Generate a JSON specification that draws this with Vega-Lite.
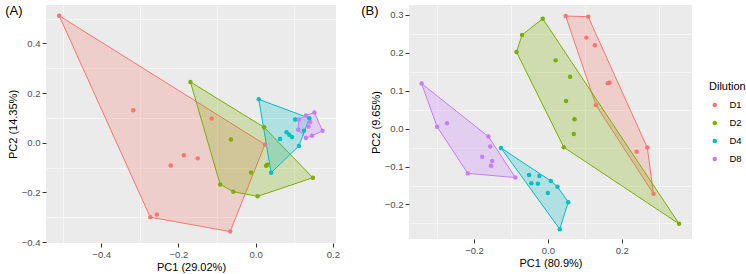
{
  "$schema": "https://vega.github.io/schema/vega-lite/v6.json",
  "padding": {"left": 5, "top": 4, "right": 0, "bottom": 0},
  "data": {
    "values": [
      {"panel": "A", "dilution": "D1", "pc1": -0.509, "pc2": 0.512, "hull": 1},
      {"panel": "A", "dilution": "D1", "pc1": 0.024, "pc2": -0.007, "hull": 2},
      {"panel": "A", "dilution": "D1", "pc1": -0.066, "pc2": -0.358, "hull": 3},
      {"panel": "A", "dilution": "D1", "pc1": -0.273, "pc2": -0.300, "hull": 4},
      {"panel": "A", "dilution": "D1", "pc1": -0.317, "pc2": 0.131, "hull": null},
      {"panel": "A", "dilution": "D1", "pc1": -0.114, "pc2": 0.098, "hull": null},
      {"panel": "A", "dilution": "D1", "pc1": -0.186, "pc2": -0.050, "hull": null},
      {"panel": "A", "dilution": "D1", "pc1": -0.150, "pc2": -0.063, "hull": null},
      {"panel": "A", "dilution": "D1", "pc1": -0.220, "pc2": -0.092, "hull": null},
      {"panel": "A", "dilution": "D1", "pc1": -0.256, "pc2": -0.289, "hull": null},

      {"panel": "A", "dilution": "D2", "pc1": -0.169, "pc2": 0.245, "hull": 1},
      {"panel": "A", "dilution": "D2", "pc1": 0.022, "pc2": 0.062, "hull": 2},
      {"panel": "A", "dilution": "D2", "pc1": 0.148, "pc2": -0.141, "hull": 3},
      {"panel": "A", "dilution": "D2", "pc1": 0.005, "pc2": -0.216, "hull": 4},
      {"panel": "A", "dilution": "D2", "pc1": -0.058, "pc2": -0.197, "hull": 5},
      {"panel": "A", "dilution": "D2", "pc1": -0.092, "pc2": -0.168, "hull": 6},
      {"panel": "A", "dilution": "D2", "pc1": -0.064, "pc2": 0.013, "hull": null},
      {"panel": "A", "dilution": "D2", "pc1": -0.012, "pc2": -0.120, "hull": null},
      {"panel": "A", "dilution": "D2", "pc1": 0.027, "pc2": -0.093, "hull": null},
      {"panel": "A", "dilution": "D2", "pc1": 0.030, "pc2": -0.089, "hull": null},

      {"panel": "A", "dilution": "D4", "pc1": 0.008, "pc2": 0.175, "hull": 1},
      {"panel": "A", "dilution": "D4", "pc1": 0.139, "pc2": 0.099, "hull": 2},
      {"panel": "A", "dilution": "D4", "pc1": 0.112, "pc2": -0.013, "hull": 3},
      {"panel": "A", "dilution": "D4", "pc1": 0.040, "pc2": -0.121, "hull": 4},
      {"panel": "A", "dilution": "D4", "pc1": 0.102, "pc2": 0.094, "hull": null},
      {"panel": "A", "dilution": "D4", "pc1": 0.063, "pc2": 0.015, "hull": null},
      {"panel": "A", "dilution": "D4", "pc1": 0.080, "pc2": 0.042, "hull": null},
      {"panel": "A", "dilution": "D4", "pc1": 0.087, "pc2": 0.032, "hull": null},
      {"panel": "A", "dilution": "D4", "pc1": 0.094, "pc2": 0.023, "hull": null},
      {"panel": "A", "dilution": "D4", "pc1": 0.125, "pc2": 0.048, "hull": null},

      {"panel": "A", "dilution": "D8", "pc1": 0.112, "pc2": 0.094, "hull": 1},
      {"panel": "A", "dilution": "D8", "pc1": 0.130, "pc2": 0.110, "hull": 2},
      {"panel": "A", "dilution": "D8", "pc1": 0.152, "pc2": 0.122, "hull": 3},
      {"panel": "A", "dilution": "D8", "pc1": 0.173, "pc2": 0.048, "hull": 4},
      {"panel": "A", "dilution": "D8", "pc1": 0.146, "pc2": 0.028, "hull": 5},
      {"panel": "A", "dilution": "D8", "pc1": 0.130, "pc2": 0.019, "hull": 6},
      {"panel": "A", "dilution": "D8", "pc1": 0.110, "pc2": 0.052, "hull": 7},
      {"panel": "A", "dilution": "D8", "pc1": 0.141, "pc2": 0.084, "hull": null},
      {"panel": "A", "dilution": "D8", "pc1": 0.137, "pc2": 0.065, "hull": null},

      {"panel": "B", "dilution": "D1", "pc1": 0.048, "pc2": 0.297, "hull": 1},
      {"panel": "B", "dilution": "D1", "pc1": 0.109, "pc2": 0.295, "hull": 2},
      {"panel": "B", "dilution": "D1", "pc1": 0.269, "pc2": -0.050, "hull": 3},
      {"panel": "B", "dilution": "D1", "pc1": 0.286, "pc2": -0.172, "hull": 4},
      {"panel": "B", "dilution": "D1", "pc1": 0.130, "pc2": 0.062, "hull": 5},
      {"panel": "B", "dilution": "D1", "pc1": 0.104, "pc2": 0.240, "hull": null},
      {"panel": "B", "dilution": "D1", "pc1": 0.127, "pc2": 0.220, "hull": null},
      {"panel": "B", "dilution": "D1", "pc1": 0.162, "pc2": 0.120, "hull": null},
      {"panel": "B", "dilution": "D1", "pc1": 0.167, "pc2": 0.121, "hull": null},
      {"panel": "B", "dilution": "D1", "pc1": 0.240, "pc2": -0.061, "hull": null},

      {"panel": "B", "dilution": "D2", "pc1": -0.014, "pc2": 0.290, "hull": 1},
      {"panel": "B", "dilution": "D2", "pc1": 0.355, "pc2": -0.251, "hull": 2},
      {"panel": "B", "dilution": "D2", "pc1": 0.043, "pc2": -0.049, "hull": 3},
      {"panel": "B", "dilution": "D2", "pc1": -0.085, "pc2": 0.202, "hull": 4},
      {"panel": "B", "dilution": "D2", "pc1": -0.070, "pc2": 0.247, "hull": 5},
      {"panel": "B", "dilution": "D2", "pc1": 0.021, "pc2": 0.180, "hull": null},
      {"panel": "B", "dilution": "D2", "pc1": 0.060, "pc2": 0.137, "hull": null},
      {"panel": "B", "dilution": "D2", "pc1": 0.049, "pc2": 0.073, "hull": null},
      {"panel": "B", "dilution": "D2", "pc1": 0.072, "pc2": 0.025, "hull": null},
      {"panel": "B", "dilution": "D2", "pc1": 0.070, "pc2": -0.014, "hull": null},

      {"panel": "B", "dilution": "D4", "pc1": -0.127, "pc2": -0.051, "hull": 1},
      {"panel": "B", "dilution": "D4", "pc1": 0.008, "pc2": -0.138, "hull": 2},
      {"panel": "B", "dilution": "D4", "pc1": 0.026, "pc2": -0.153, "hull": 3},
      {"panel": "B", "dilution": "D4", "pc1": 0.055, "pc2": -0.194, "hull": 4},
      {"panel": "B", "dilution": "D4", "pc1": 0.032, "pc2": -0.265, "hull": 5},
      {"panel": "B", "dilution": "D4", "pc1": -0.051, "pc2": -0.122, "hull": null},
      {"panel": "B", "dilution": "D4", "pc1": -0.023, "pc2": -0.125, "hull": null},
      {"panel": "B", "dilution": "D4", "pc1": -0.045, "pc2": -0.144, "hull": null},
      {"panel": "B", "dilution": "D4", "pc1": -0.027, "pc2": -0.145, "hull": null},
      {"panel": "B", "dilution": "D4", "pc1": 0.000, "pc2": -0.170, "hull": null},

      {"panel": "B", "dilution": "D8", "pc1": -0.342, "pc2": 0.119, "hull": 1},
      {"panel": "B", "dilution": "D8", "pc1": -0.161, "pc2": -0.021, "hull": 2},
      {"panel": "B", "dilution": "D8", "pc1": -0.088, "pc2": -0.129, "hull": 3},
      {"panel": "B", "dilution": "D8", "pc1": -0.217, "pc2": -0.118, "hull": 4},
      {"panel": "B", "dilution": "D8", "pc1": -0.300, "pc2": 0.005, "hull": 5},
      {"panel": "B", "dilution": "D8", "pc1": -0.273, "pc2": 0.014, "hull": null},
      {"panel": "B", "dilution": "D8", "pc1": -0.156, "pc2": -0.047, "hull": null},
      {"panel": "B", "dilution": "D8", "pc1": -0.178, "pc2": -0.074, "hull": null},
      {"panel": "B", "dilution": "D8", "pc1": -0.151, "pc2": -0.085, "hull": null},
      {"panel": "B", "dilution": "D8", "pc1": -0.154, "pc2": -0.098, "hull": null}
    ]
  },
  "spacing": 21,
  "hconcat": [
    {
      "title": {"text": "(A)", "anchor": "start", "frame": "bounds", "baseline": "alphabetic", "offset": -22.5, "dx": -2},
      "width": 290,
      "height": 238,
      "transform": [{"filter": "datum.panel === 'A'"}],
      "layer": [
        {
          "transform": [{"filter": "isValid(datum.hull)"}],
          "mark": {"type": "line", "interpolate": "linear-closed", "strokeWidth": 1, "fillOpacity": 0.25},
          "encoding": {
            "x": {"field": "pc1", "type": "quantitative", "scale": {"domain": [-0.543, 0.208], "nice": false, "zero": false},
                  "axis": {"orient": "bottom", "values": [-0.5, -0.3, -0.1, 0.1], "labels": false, "ticks": false, "title": null, "gridWidth": 0.5}},
            "y": {"field": "pc2", "type": "quantitative", "scale": {"domain": [-0.404, 0.555], "nice": false, "zero": false},
                  "axis": {"orient": "left", "values": [-0.3, -0.1, 0.1, 0.3, 0.5], "labels": false, "ticks": false, "title": null, "gridWidth": 0.5}},
            "order": {"field": "hull", "type": "quantitative"},
            "stroke": {"field": "dilution", "type": "nominal", "scale": {"domain": ["D8", "D4", "D2", "D1"], "range": ["#C77CFF", "#00BFC4", "#7CAE00", "#F8766D"]}, "legend": null},
            "fill": {"field": "dilution", "type": "nominal", "scale": {"domain": ["D8", "D4", "D2", "D1"], "range": ["#C77CFF", "#00BFC4", "#7CAE00", "#F8766D"]}, "legend": null}
          }
        },
        {
          "mark": {"type": "point", "filled": true, "size": 20, "opacity": 1},
          "encoding": {
            "x": {"field": "pc1", "type": "quantitative", "title": "PC1 (29.02%)", "scale": {"domain": [-0.543, 0.208], "nice": false, "zero": false},
                  "axis": {"orient": "bottom", "values": [-0.4, -0.2, 0, 0.2], "format": ".1f"}},
            "y": {"field": "pc2", "type": "quantitative", "title": "PC2 (14.35%)", "scale": {"domain": [-0.404, 0.555], "nice": false, "zero": false},
                  "axis": {"orient": "left", "values": [-0.4, -0.2, 0, 0.2, 0.4], "format": ".1f"}},
            "color": {"field": "dilution", "type": "nominal", "title": "Dilution", "scale": {"domain": ["D1", "D2", "D4", "D8"], "range": ["#F8766D", "#7CAE00", "#00BFC4", "#C77CFF"]},
                      "legend": {"orient": "none", "legendX": 663, "legendY": 76}}
          }
        }
      ],
      "resolve": {"axis": {"x": "independent", "y": "independent"}}
    },
    {
      "title": {"text": "(B)", "anchor": "start", "frame": "bounds", "baseline": "alphabetic", "offset": -22.5, "dx": -9},
      "width": 283,
      "height": 234,
      "transform": [{"filter": "datum.panel === 'B'"}],
      "layer": [
        {
          "transform": [{"filter": "isValid(datum.hull)"}],
          "mark": {"type": "line", "interpolate": "linear-closed", "strokeWidth": 1, "fillOpacity": 0.25},
          "encoding": {
            "x": {"field": "pc1", "type": "quantitative", "scale": {"domain": [-0.376, 0.39], "nice": false, "zero": false},
                  "axis": {"orient": "bottom", "values": [-0.3, -0.1, 0.1, 0.3], "labels": false, "ticks": false, "title": null, "gridWidth": 0.5}},
            "y": {"field": "pc2", "type": "quantitative", "scale": {"domain": [-0.291, 0.326], "nice": false, "zero": false},
                  "axis": {"orient": "left", "values": [-0.25, -0.15, -0.05, 0.05, 0.15, 0.25], "labels": false, "ticks": false, "title": null, "gridWidth": 0.5}},
            "order": {"field": "hull", "type": "quantitative"},
            "stroke": {"field": "dilution", "type": "nominal", "scale": {"domain": ["D8", "D4", "D2", "D1"], "range": ["#C77CFF", "#00BFC4", "#7CAE00", "#F8766D"]}, "legend": null},
            "fill": {"field": "dilution", "type": "nominal", "scale": {"domain": ["D8", "D4", "D2", "D1"], "range": ["#C77CFF", "#00BFC4", "#7CAE00", "#F8766D"]}, "legend": null}
          }
        },
        {
          "mark": {"type": "point", "filled": true, "size": 20, "opacity": 1},
          "encoding": {
            "x": {"field": "pc1", "type": "quantitative", "title": "PC1 (80.9%)", "scale": {"domain": [-0.376, 0.39], "nice": false, "zero": false},
                  "axis": {"orient": "bottom", "values": [-0.2, 0, 0.2], "format": ".1f"}},
            "y": {"field": "pc2", "type": "quantitative", "title": "PC2 (9.65%)", "scale": {"domain": [-0.291, 0.326], "nice": false, "zero": false},
                  "axis": {"orient": "left", "values": [-0.2, -0.1, 0, 0.1, 0.2, 0.3], "format": ".1f"}},
            "color": {"field": "dilution", "type": "nominal", "title": "Dilution", "scale": {"domain": ["D1", "D2", "D4", "D8"], "range": ["#F8766D", "#7CAE00", "#00BFC4", "#C77CFF"]},
                      "legend": {"orient": "none", "legendX": 663, "legendY": 76}}
          }
        }
      ],
      "resolve": {"axis": {"x": "independent", "y": "independent"}}
    }
  ],
  "resolve": {"scale": {"x": "independent", "y": "independent", "color": "shared"}},
  "config": {
    "font": "Liberation Sans",
    "view": {"fill": "#EBEBEB", "stroke": null},
    "title": {"fontSize": 13, "fontWeight": "normal", "color": "#000000"},
    "axis": {
      "grid": true, "gridColor": "#FFFFFF", "gridWidth": 1, "gridOpacity": 1,
      "domain": false, "tickColor": "#333333", "tickSize": 4, "tickWidth": 1,
      "labelColor": "#4D4D4D", "labelFontSize": 9.5, "labelPadding": 2,
      "titleFontSize": 11, "titleFontWeight": "normal", "titleColor": "#000000", "titlePadding": 3
    },
    "legend": {
      "titleFontSize": 11, "titleFontWeight": "normal", "titleColor": "#000000", "titlePadding": 4,
      "labelFontSize": 9.5, "labelColor": "#000000", "labelOffset": 10,
      "symbolType": "circle", "symbolSize": 20, "symbolOffset": 1, "clipHeight": 18, "rowPadding": 0
    }
  }
}
